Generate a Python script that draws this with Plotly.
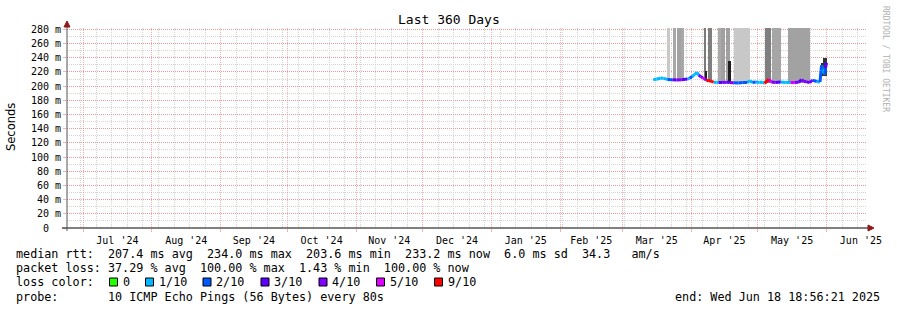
import plotly.graph_objects as go
import pandas as pd

# ---------------- data ----------------
med_time = [
    "2025-03-14 23:00", "2025-03-16 11:00", "2025-03-18 06:00", "2025-03-19 14:00",
    "2025-03-21 07:00", "2025-03-23 12:00", "2025-03-25 12:00", "2025-03-27 17:00",
    "2025-03-30 07:00", "2025-03-31 07:00", "2025-04-01 11:00", "2025-04-02 14:00",
    "2025-04-03 17:00", "2025-04-04 10:00", "2025-04-05 07:00", "2025-04-06 05:00",
    "2025-04-07 02:00", "2025-04-07 19:00", "2025-04-08 22:00", "2025-04-10 05:00",
    "2025-04-11 02:00", "2025-04-12 12:00", "2025-04-13 10:00", "2025-04-15 05:00",
    "2025-04-17 00:00", "2025-04-18 07:00", "2025-04-20 05:00", "2025-04-22 10:00",
    "2025-04-24 05:00", "2025-04-26 07:00", "2025-04-27 10:00", "2025-04-28 14:00",
    "2025-04-30 02:00", "2025-05-01 21:00", "2025-05-03 05:00", "2025-05-04 02:00",
    "2025-05-06 00:00", "2025-05-07 02:00", "2025-05-09 02:00", "2025-05-11 07:00",
    "2025-05-13 14:00", "2025-05-15 19:00", "2025-05-17 14:00", "2025-05-19 10:00",
    "2025-05-20 19:00", "2025-05-21 17:00", "2025-05-23 00:00", "2025-05-24 10:00",
    "2025-05-25 14:00", "2025-05-27 14:00", "2025-05-29 02:00", "2025-05-29 12:00",
    "2025-05-29 19:00", "2025-05-30 07:00", "2025-05-30 17:00", "2025-05-31 05:00",
    "2025-05-31 14:00", "2025-06-01 00:00",
]
med_value = [
    209.5, 209.8, 211.5, 211.0,
    209.5, 209.2, 208.8, 209.0,
    210.0, 211.0, 213.5, 216.5,
    219.4, 215.5, 213.5, 212.0,
    210.0, 208.5, 207.5, 207.0,
    205.5, 205.3, 205.3, 205.0,
    205.5, 205.0, 204.8, 204.5,
    205.3, 205.0, 207.5, 205.3,
    205.8, 205.3, 205.8, 204.0,
    209.5, 206.0, 205.3, 205.8,
    205.3, 205.3, 205.0, 205.5,
    209.0, 207.0, 206.0, 205.0,
    208.5, 206.5, 206.0, 222.0,
    229.5, 218.0, 224.0, 216.5,
    226.0, 233.2,
]
med_loss = [
    1, 1, 1, 1,
    2, 3, 4, 3,
    1, 2, 1, 1,
    1, 3, 4, 5,
    4, 9, 9, 9,
    1, 1, 3, 4,
    3, 4, 2, 2,
    2, 1, 1, 2,
    1, 1, 1, 9,
    5, 4, 3, 1,
    1, 5, 4, 3,
    4, 4, 3, 4,
    2, 1, 2, 2,
    1, 1, 1, 2,
    3, 3,
]

loss_levels = [0, 1, 2, 3, 4, 5, 9]
loss_colors = ["#26ff00", "#00b8ff", "#0059ff", "#5e00ff", "#7e00ff", "#dd00ff", "#ff0000"]
loss_labels = ["0", "1/10", "2/10", "3/10", "4/10", "5/10", "9/10"]

smoke_start = ["2025-03-21 07:00", "2025-03-24 00:00", "2025-03-25 12:00", "2025-03-27 14:00",
               "2025-04-07 05:00", "2025-04-08 17:00", "2025-04-13 07:00", "2025-04-14 14:00",
               "2025-04-16 17:00", "2025-04-20 07:00", "2025-05-04 10:00", "2025-05-07 14:00",
               "2025-05-14 17:00",
               "2025-04-07 08:00", "2025-04-17 22:00", "2025-05-29 07:00", "2025-05-30 06:00"]
smoke_end = ["2025-03-22 07:00", "2025-03-25 05:00", "2025-03-27 07:00", "2025-03-29 00:00",
             "2025-04-07 19:00", "2025-04-10 14:00", "2025-04-14 07:00", "2025-04-16 02:00",
             "2025-04-18 12:00", "2025-04-27 10:00", "2025-05-06 19:00", "2025-05-11 07:00",
             "2025-05-24 10:00",
             "2025-04-07 22:00", "2025-04-18 19:00", "2025-05-30 06:00", "2025-06-01 00:00"]
smoke_low = [209.0, 208.8, 208.5, 208.5,
             208.0, 206.5, 205.0, 204.8,
             205.0, 204.5, 204.0, 205.0,
             205.0,
             208.0, 205.0, 214.0, 215.0]
smoke_high = [282, 282, 282, 282,
              282, 282, 282, 282,
              282, 282, 282, 282,
              282,
              221.0, 235.5, 233.0, 240.0]
smoke_shade = ["#c8c8c8", "#a8a8a8", "#a2a2a2", "#a8a8a8",
               "#7a7a7a", "#7f7f7f", "#aaaaaa", "#a0a0a0",
               "#a0a0a0", "#c8c8c8", "#7f7f7f", "#a6a6a6",
               "#a2a2a2",
               "#222222", "#1e1e1e", "#2a2a2a", "#333333"]

y_ticks = [0, 20, 40, 60, 80, 100, 120, 140, 160, 180, 200, 220, 240, 260, 280]

title_text = "Last 360 Days"
legend_lines = [
    "median rtt:  207.4 ms avg  234.0 ms max  203.6 ms min  233.2 ms now  6.0 ms sd  34.3   am/s",
    "packet loss: 37.29 % avg  100.00 % max  1.43 % min  100.00 % now",
    "loss color:",
    "probe:       10 ICMP Echo Pings (56 Bytes) every 80s",
]
end_text = "end: Wed Jun 18 18:56:21 2025"

# ---------------- geometry helpers ----------------
L, R, T, B = 67, 866, 28, 228
W, H = 897, 310


def fx(px):
    return (px - L) / (R - L)


def fy(py):
    return (B - py) / (B - T)


def nb(s):
    return s.replace(" ", "\u00a0")


MONO = "DejaVu Sans Mono"

fig = go.Figure()

# smoke
s0 = pd.to_datetime(pd.Series(smoke_start))
s1 = pd.to_datetime(pd.Series(smoke_end))
mid = s0 + (s1 - s0) / 2
dur = (s1 - s0).dt.total_seconds() * 1000
fig.add_trace(go.Bar(
    x=mid, y=[h - l for h, l in zip(smoke_high, smoke_low)], base=smoke_low,
    width=list(dur), marker=dict(color=smoke_shade, line=dict(width=0)),
    hoverinfo="skip", showlegend=False,
))


def level_index(n):
    idx = 0
    for i, lv in enumerate(loss_levels):
        if n >= lv:
            idx = i
    return idx


# median line coloured by loss
tt = list(pd.to_datetime(pd.Series(med_time)))
for ci, col in enumerate(loss_colors):
    xs, ys = [], []
    for i in range(len(tt) - 1):
        if level_index(med_loss[i]) == ci:
            xs += [tt[i], tt[i + 1], None]
            ys += [med_value[i], med_value[i + 1], None]
    if xs:
        fig.add_trace(go.Scatter(x=xs, y=ys, mode="lines",
                                 line=dict(color=col, width=3),
                                 hoverinfo="skip", showlegend=False))

major_grid = "rgba(240,120,120,0.6)"
minor_grid = "#d4d4d4"

fig.update_xaxes(
    type="date",
    range=["2024-06-23 18:56:21", "2025-06-18 18:56:21"],
    dtick="M1", tick0="2024-07-01", tickformat="%b '%y", ticklabelmode="period",
    showgrid=True, gridcolor=major_grid, griddash="1px,1px", gridwidth=1,
    minor=dict(dtick=7 * 86400000, tick0="2024-06-30", showgrid=True,
               gridcolor=minor_grid, griddash="1px,1px", gridwidth=1),
    ticks="outside", ticklen=3, tickcolor=major_grid,
    tickfont=dict(family=MONO, size=10, color="#000"),
    zeroline=False, showline=False, fixedrange=True,
)
fig.update_yaxes(
    range=[0, 282],
    tickmode="array", tickvals=y_ticks,
    ticktext=[nb("0  ")] + [nb(f"{v} m") for v in y_ticks[1:]],
    showgrid=True, gridcolor=major_grid, griddash="1px,1px", gridwidth=1,
    minor=dict(tickmode="linear", dtick=10, tick0=0, showgrid=True,
               gridcolor=minor_grid, griddash="1px,1px", gridwidth=1),
    ticks="outside", ticklen=3, tickcolor=major_grid,
    tickfont=dict(family=MONO, size=10, color="#000"),
    zeroline=False, showline=False, fixedrange=True,
)

shapes = []
# axes lines
shapes.append(dict(type="line", xref="paper", yref="paper", x0=fx(62), x1=fx(870),
                   y0=fy(228), y1=fy(228), line=dict(color="#000", width=1)))
shapes.append(dict(type="line", xref="paper", yref="paper", x0=fx(67), x1=fx(67),
                   y0=fy(231), y1=fy(25), line=dict(color="#555", width=1)))
# arrows
shapes.append(dict(type="path", xref="paper", yref="paper",
                   path=f"M {fx(64)} {fy(27)} L {fx(67)} {fy(21)} L {fx(70)} {fy(27)} Z",
                   fillcolor="#8b1a1a", line=dict(color="#8b1a1a", width=1)))
shapes.append(dict(type="path", xref="paper", yref="paper",
                   path=f"M {fx(868)} {fy(225)} L {fx(874)} {fy(228)} L {fx(868)} {fy(231)} Z",
                   fillcolor="#8b1a1a", line=dict(color="#8b1a1a", width=1)))

annotations = []
annotations.append(dict(text=title_text, xref="paper", yref="paper",
                        x=fx(448.5), y=fy(19), xanchor="center", yanchor="middle",
                        showarrow=False, font=dict(family=MONO, size=13, color="#000")))
annotations.append(dict(text="Seconds", xref="paper", yref="paper",
                        x=fx(11), y=fy(127), xanchor="center", yanchor="middle",
                        textangle=-90, showarrow=False,
                        font=dict(family="DejaVu Sans", size=11.5, color="#000")))
annotations.append(dict(text=nb("RRDTOOL / TOBI OETIKER"), xref="paper", yref="paper",
                        x=fx(886), y=fy(59), xanchor="center", yanchor="middle",
                        textangle=90, showarrow=False,
                        font=dict(family=MONO, size=8, color="#b0b0b0")))

line_y = [253.5, 268, 282, 296.5]
for txt, py in zip(legend_lines, line_y):
    annotations.append(dict(text=nb(txt), xref="paper", yref="paper",
                            x=fx(14), y=fy(py), xanchor="left", yanchor="middle",
                            showarrow=False,
                            font=dict(family=MONO, size=11.75, color="#000")))
annotations.append(dict(text=nb(end_text), xref="paper", yref="paper",
                        x=fx(882), y=fy(296.5), xanchor="right", yanchor="middle",
                        showarrow=False, font=dict(family=MONO, size=11.75, color="#000")))

box_x = [109.5, 145.5, 203, 261, 319, 376.5, 434.5]
for bx, col, lab in zip(box_x, loss_colors, loss_labels):
    shapes.append(dict(type="rect", xref="paper", yref="paper",
                       x0=fx(bx), x1=fx(bx + 8), y0=fy(278), y1=fy(286),
                       fillcolor=col, line=dict(color="#000", width=1)))
    annotations.append(dict(text=lab, xref="paper", yref="paper",
                            x=fx(bx + 11), y=fy(282), xanchor="left", yanchor="middle",
                            showarrow=False,
                            font=dict(family=MONO, size=11.75, color="#000")))

fig.update_layout(
    width=W, height=H,
    margin=dict(l=L, r=W - R, t=T, b=H - B),
    paper_bgcolor="#ffffff", plot_bgcolor="#ffffff",
    showlegend=False, barmode="overlay", bargap=0,
    shapes=shapes, annotations=annotations,
)

fig.write_html("out.html")
